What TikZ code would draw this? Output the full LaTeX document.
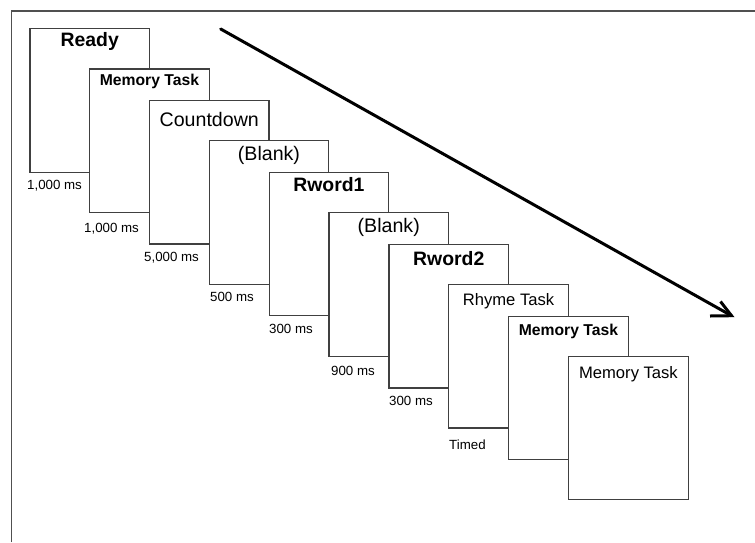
\documentclass[tikz,border=0pt]{standalone}
\usepackage{fontspec}
\setmainfont{Liberation Sans}
\begin{document}
\begin{tikzpicture}[x=1pt,y=-1pt,
  box/.style={draw=boxgray, line width=1.3pt, fill=white, minimum width=119.5pt, minimum height=143.5pt, anchor=north west, inner sep=0pt, outer sep=0pt},
  tbig/.style={font=\fontsize{19.6}{20}\selectfont, anchor=base, inner sep=0pt},
  tbigb/.style={font=\fontsize{19.4}{20}\selectfont\bfseries, anchor=base, inner sep=0pt},
  tmidb/.style={font=\fontsize{15.7}{16}\selectfont\bfseries, anchor=base, inner sep=0pt},
  tmid/.style={font=\fontsize{16.6}{17}\selectfont, anchor=base, inner sep=0pt},
  dur/.style={font=\fontsize{13.3}{14}\selectfont, anchor=base west, inner sep=0pt},
  frameline/.style={draw=framegray, line width=1.5pt},
  arrowline/.style={line width=3pt, black}
]
\definecolor{boxgray}{HTML}{404040}
\definecolor{framegray}{HTML}{505050}
\useasboundingbox (0,0) rectangle (755,542);
\fill[white] (0,0) rectangle (755,542);
% frame (top and left only)
\coordinate (fl) at (11.3,542);
\coordinate (fc) at (11.3,11);
\coordinate (fr) at (755,11);
\draw[frameline] (fl) -- (fc) -- (fr);

% boxes
\node[box] (b1) at (30,28.7) {};
\node[box] (b2) at (89.7,69) {};
\node[box] (b3) at (149.5,100.5) {};
\node[box] (b4) at (209.2,140.7) {};
\node[box] (b5) at (269.2,172.3) {};
\node[box] (b6) at (329,212.7) {};
\node[box] (b7) at (389,244.5) {};
\node[box] (b8) at (448.8,284.6) {};
\node[box] (b9) at (508.7,316.3) {};
\node[box] (b10) at (568.7,356.3) {};

% titles
\node[tbigb] (t1) at ([yshift=-18pt]b1.north) {Ready};
\node[tmidb] (t2) at ([yshift=-16pt]b2.north) {Memory Task};
\node[tbig]  (t3) at ([yshift=-25.5pt]b3.north) {Countdown};
\node[tbig]  (t4) at ([yshift=-20pt]b4.north) {(Blank)};
\node[tbigb] (t5) at ([yshift=-19.4pt]b5.north) {Rword1};
\node[tbig]  (t6) at ([yshift=-20pt]b6.north) {(Blank)};
\node[tbigb] (t7) at ([yshift=-21pt]b7.north) {Rword2};
\node[tmid]  (t8) at ([yshift=-21.2pt]b8.north) {Rhyme Task};
\node[tmidb] (t9) at ([yshift=-19pt]b9.north) {Memory Task};
\node[tmid]  (t10) at ([yshift=-22pt]b10.north) {Memory Task};

% durations
\node[dur] (d1) at (27,189) {1,000 ms};
\node[dur] (d2) at (84,232) {1,000 ms};
\node[dur] (d3) at (144,261) {5,000 ms};
\node[dur] (d4) at (210,301.3) {500 ms};
\node[dur] (d5) at (269,333.3) {300 ms};
\node[dur] (d6) at (331,375) {900 ms};
\node[dur] (d7) at (389,405.7) {300 ms};
\node[dur] (d8) at (449,449) {Timed};

% time arrow
\coordinate (as) at (220.7,29);
\coordinate (at) at (731.5,315.7);
\coordinate (ab1) at (710,316);
\coordinate (ab2) at (720.5,301.5);
\draw[arrowline, line cap=round] (as) -- (at);
\draw[arrowline, line join=miter] (ab1) -- (at) -- (ab2);
\end{tikzpicture}
\end{document}
